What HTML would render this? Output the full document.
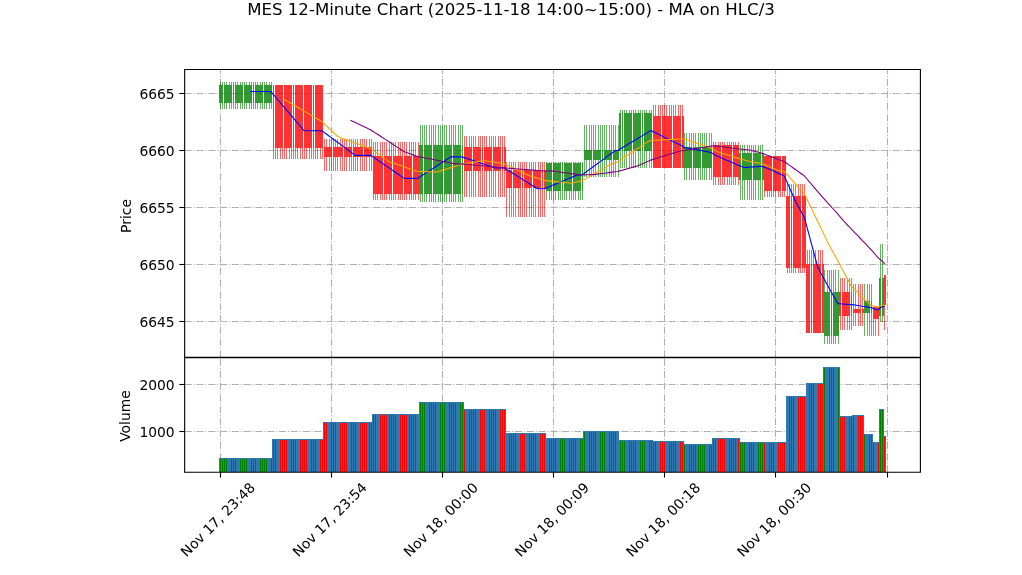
<!DOCTYPE html>
<html lang="en"><head><meta charset="utf-8"><title>MES 12-Minute Chart</title>
<style>html,body{margin:0;padding:0;background:#fff}body{width:1022px;height:575px;overflow:hidden}</style></head>
<body>
<svg width="1022" height="575" viewBox="0 0 1022 575" style="display:block">
<rect width="1022" height="575" fill="#fff"/>
<g stroke="#b0b0b0" stroke-width="1.1" stroke-dasharray="7.1,1.8,1.1,1.8" fill="none">
<path d="M220.5 357.5V69.45M220.5 472.3V357.5"/>
<path d="M331.5 357.5V69.45M331.5 472.3V357.5"/>
<path d="M442.5 357.5V69.45M442.5 472.3V357.5"/>
<path d="M553.5 357.5V69.45M553.5 472.3V357.5"/>
<path d="M664.5 357.5V69.45M664.5 472.3V357.5"/>
<path d="M775.5 357.5V69.45M775.5 472.3V357.5"/>
<path d="M887.5 357.5V69.45M887.5 472.3V357.5"/>
<path d="M184.65 93.5H920.4"/>
<path d="M184.65 150.5H920.4"/>
<path d="M184.65 207.5H920.4"/>
<path d="M184.65 264.5H920.4"/>
<path d="M184.65 321.5H920.4"/>
<path d="M184.65 431.5H920.4"/>
<path d="M184.65 384.5H920.4"/>
</g>
<g shape-rendering="crispEdges">
<g fill="#008000" fill-opacity="0.8">
<rect x="219" y="85" width="2" height="18"/>
<rect x="221" y="85" width="2" height="18"/>
<rect x="224" y="85" width="2" height="18"/>
<rect x="226" y="85" width="2" height="18"/>
<rect x="228" y="85" width="2" height="18"/>
<rect x="230" y="85" width="2" height="18"/>
<rect x="233" y="85" width="1" height="18"/>
<rect x="235" y="85" width="2" height="18"/>
<rect x="237" y="85" width="2" height="18"/>
<rect x="239" y="85" width="2" height="18"/>
<rect x="241" y="85" width="2" height="18"/>
<rect x="244" y="85" width="2" height="18"/>
<rect x="246" y="85" width="2" height="18"/>
<rect x="248" y="85" width="2" height="18"/>
<rect x="250" y="85" width="2" height="18"/>
<rect x="253" y="85" width="1" height="18"/>
<rect x="255" y="85" width="2" height="18"/>
<rect x="257" y="85" width="2" height="18"/>
<rect x="259" y="85" width="2" height="18"/>
<rect x="261" y="85" width="2" height="18"/>
<rect x="264" y="85" width="2" height="18"/>
<rect x="266" y="85" width="2" height="18"/>
<rect x="268" y="85" width="2" height="18"/>
<rect x="270" y="85" width="2" height="18"/>
<rect x="419" y="145" width="2" height="49"/>
<rect x="421" y="145" width="2" height="49"/>
<rect x="424" y="145" width="2" height="49"/>
<rect x="426" y="145" width="2" height="49"/>
<rect x="428" y="145" width="2" height="49"/>
<rect x="430" y="145" width="2" height="49"/>
<rect x="433" y="145" width="2" height="49"/>
<rect x="435" y="145" width="2" height="49"/>
<rect x="437" y="145" width="2" height="49"/>
<rect x="439" y="145" width="2" height="49"/>
<rect x="441" y="145" width="2" height="49"/>
<rect x="444" y="145" width="2" height="49"/>
<rect x="446" y="145" width="2" height="49"/>
<rect x="448" y="145" width="2" height="49"/>
<rect x="450" y="145" width="2" height="49"/>
<rect x="453" y="145" width="2" height="49"/>
<rect x="455" y="145" width="2" height="49"/>
<rect x="457" y="145" width="2" height="49"/>
<rect x="459" y="145" width="2" height="49"/>
<rect x="462" y="145" width="1" height="49"/>
<rect x="546" y="163" width="2" height="28"/>
<rect x="548" y="163" width="2" height="28"/>
<rect x="550" y="163" width="2" height="28"/>
<rect x="553" y="163" width="2" height="28"/>
<rect x="555" y="163" width="2" height="28"/>
<rect x="557" y="163" width="2" height="28"/>
<rect x="559" y="163" width="2" height="28"/>
<rect x="562" y="163" width="1" height="28"/>
<rect x="564" y="163" width="2" height="28"/>
<rect x="566" y="163" width="2" height="28"/>
<rect x="568" y="163" width="2" height="28"/>
<rect x="570" y="163" width="2" height="28"/>
<rect x="573" y="163" width="2" height="28"/>
<rect x="575" y="163" width="2" height="28"/>
<rect x="577" y="163" width="2" height="28"/>
<rect x="579" y="163" width="2" height="28"/>
<rect x="582" y="163" width="1" height="28"/>
<rect x="584" y="150" width="2" height="10"/>
<rect x="586" y="150" width="2" height="10"/>
<rect x="588" y="150" width="2" height="10"/>
<rect x="590" y="150" width="2" height="10"/>
<rect x="593" y="150" width="2" height="10"/>
<rect x="595" y="150" width="2" height="10"/>
<rect x="597" y="150" width="2" height="10"/>
<rect x="599" y="150" width="2" height="10"/>
<rect x="602" y="150" width="1" height="10"/>
<rect x="604" y="150" width="2" height="10"/>
<rect x="606" y="150" width="2" height="10"/>
<rect x="608" y="150" width="2" height="10"/>
<rect x="610" y="150" width="2" height="10"/>
<rect x="613" y="150" width="2" height="10"/>
<rect x="615" y="150" width="2" height="10"/>
<rect x="617" y="150" width="2" height="10"/>
<rect x="619" y="113" width="2" height="38"/>
<rect x="622" y="113" width="1" height="38"/>
<rect x="624" y="113" width="2" height="38"/>
<rect x="626" y="113" width="2" height="38"/>
<rect x="628" y="113" width="2" height="38"/>
<rect x="630" y="113" width="2" height="38"/>
<rect x="633" y="113" width="2" height="38"/>
<rect x="635" y="113" width="2" height="38"/>
<rect x="637" y="113" width="2" height="38"/>
<rect x="639" y="113" width="2" height="38"/>
<rect x="642" y="113" width="1" height="38"/>
<rect x="644" y="113" width="2" height="38"/>
<rect x="646" y="113" width="2" height="38"/>
<rect x="648" y="113" width="2" height="38"/>
<rect x="650" y="113" width="2" height="38"/>
<rect x="684" y="147" width="2" height="21"/>
<rect x="686" y="147" width="2" height="21"/>
<rect x="688" y="147" width="2" height="21"/>
<rect x="690" y="147" width="2" height="21"/>
<rect x="693" y="147" width="2" height="21"/>
<rect x="695" y="147" width="2" height="21"/>
<rect x="697" y="147" width="2" height="21"/>
<rect x="699" y="147" width="2" height="21"/>
<rect x="702" y="147" width="2" height="21"/>
<rect x="704" y="147" width="2" height="21"/>
<rect x="706" y="147" width="2" height="21"/>
<rect x="708" y="147" width="2" height="21"/>
<rect x="710" y="147" width="2" height="21"/>
<rect x="739" y="153" width="2" height="27"/>
<rect x="742" y="153" width="2" height="27"/>
<rect x="744" y="153" width="2" height="27"/>
<rect x="746" y="153" width="2" height="27"/>
<rect x="748" y="153" width="2" height="27"/>
<rect x="750" y="153" width="2" height="27"/>
<rect x="753" y="153" width="2" height="27"/>
<rect x="755" y="153" width="2" height="27"/>
<rect x="757" y="153" width="2" height="27"/>
<rect x="759" y="153" width="2" height="27"/>
<rect x="762" y="153" width="2" height="27"/>
<rect x="824" y="292" width="2" height="44"/>
<rect x="826" y="292" width="2" height="44"/>
<rect x="828" y="292" width="2" height="44"/>
<rect x="831" y="292" width="1" height="44"/>
<rect x="833" y="292" width="2" height="44"/>
<rect x="835" y="292" width="2" height="44"/>
<rect x="837" y="292" width="2" height="44"/>
<rect x="864" y="301" width="2" height="12"/>
<rect x="866" y="301" width="2" height="12"/>
<rect x="868" y="301" width="2" height="12"/>
<rect x="871" y="301" width="1" height="12"/>
<rect x="879" y="278" width="2" height="38"/>
<rect x="882" y="278" width="2" height="38"/>
</g>
<g fill="#ff0000" fill-opacity="0.8">
<rect x="273" y="85" width="1" height="63"/>
<rect x="275" y="85" width="2" height="63"/>
<rect x="277" y="85" width="2" height="63"/>
<rect x="279" y="85" width="2" height="63"/>
<rect x="281" y="85" width="2" height="63"/>
<rect x="284" y="85" width="2" height="63"/>
<rect x="286" y="85" width="2" height="63"/>
<rect x="288" y="85" width="2" height="63"/>
<rect x="290" y="85" width="2" height="63"/>
<rect x="293" y="85" width="1" height="63"/>
<rect x="295" y="85" width="2" height="63"/>
<rect x="297" y="85" width="2" height="63"/>
<rect x="299" y="85" width="2" height="63"/>
<rect x="301" y="85" width="2" height="63"/>
<rect x="304" y="85" width="2" height="63"/>
<rect x="306" y="85" width="2" height="63"/>
<rect x="308" y="85" width="2" height="63"/>
<rect x="310" y="85" width="2" height="63"/>
<rect x="313" y="85" width="1" height="63"/>
<rect x="315" y="85" width="2" height="63"/>
<rect x="317" y="85" width="2" height="63"/>
<rect x="319" y="85" width="2" height="63"/>
<rect x="321" y="85" width="2" height="63"/>
<rect x="324" y="147" width="2" height="10"/>
<rect x="326" y="147" width="2" height="10"/>
<rect x="328" y="147" width="2" height="10"/>
<rect x="330" y="147" width="2" height="10"/>
<rect x="333" y="147" width="2" height="10"/>
<rect x="335" y="147" width="2" height="10"/>
<rect x="337" y="147" width="2" height="10"/>
<rect x="339" y="147" width="2" height="10"/>
<rect x="341" y="147" width="2" height="10"/>
<rect x="344" y="147" width="2" height="10"/>
<rect x="346" y="147" width="2" height="10"/>
<rect x="348" y="147" width="2" height="10"/>
<rect x="350" y="147" width="2" height="10"/>
<rect x="353" y="147" width="2" height="10"/>
<rect x="355" y="147" width="2" height="10"/>
<rect x="357" y="147" width="2" height="10"/>
<rect x="359" y="147" width="2" height="10"/>
<rect x="361" y="147" width="2" height="10"/>
<rect x="364" y="147" width="2" height="10"/>
<rect x="366" y="147" width="2" height="10"/>
<rect x="368" y="147" width="2" height="10"/>
<rect x="370" y="147" width="2" height="10"/>
<rect x="373" y="156" width="2" height="38"/>
<rect x="375" y="156" width="2" height="38"/>
<rect x="377" y="156" width="2" height="38"/>
<rect x="379" y="156" width="2" height="38"/>
<rect x="381" y="156" width="2" height="38"/>
<rect x="384" y="156" width="2" height="38"/>
<rect x="386" y="156" width="2" height="38"/>
<rect x="388" y="156" width="2" height="38"/>
<rect x="390" y="156" width="2" height="38"/>
<rect x="393" y="156" width="2" height="38"/>
<rect x="395" y="156" width="2" height="38"/>
<rect x="397" y="156" width="2" height="38"/>
<rect x="399" y="156" width="2" height="38"/>
<rect x="401" y="156" width="2" height="38"/>
<rect x="404" y="156" width="2" height="38"/>
<rect x="406" y="156" width="2" height="38"/>
<rect x="408" y="156" width="2" height="38"/>
<rect x="410" y="156" width="2" height="38"/>
<rect x="413" y="156" width="2" height="38"/>
<rect x="415" y="156" width="2" height="38"/>
<rect x="417" y="156" width="2" height="38"/>
<rect x="464" y="147" width="2" height="24"/>
<rect x="466" y="147" width="2" height="24"/>
<rect x="468" y="147" width="2" height="24"/>
<rect x="470" y="147" width="2" height="24"/>
<rect x="473" y="147" width="2" height="24"/>
<rect x="475" y="147" width="2" height="24"/>
<rect x="477" y="147" width="2" height="24"/>
<rect x="479" y="147" width="2" height="24"/>
<rect x="482" y="147" width="1" height="24"/>
<rect x="484" y="147" width="2" height="24"/>
<rect x="486" y="147" width="2" height="24"/>
<rect x="488" y="147" width="2" height="24"/>
<rect x="490" y="147" width="2" height="24"/>
<rect x="493" y="147" width="2" height="24"/>
<rect x="495" y="147" width="2" height="24"/>
<rect x="497" y="147" width="2" height="24"/>
<rect x="499" y="147" width="2" height="24"/>
<rect x="502" y="147" width="1" height="24"/>
<rect x="504" y="147" width="2" height="24"/>
<rect x="506" y="170" width="2" height="18"/>
<rect x="508" y="170" width="2" height="18"/>
<rect x="510" y="170" width="2" height="18"/>
<rect x="513" y="170" width="2" height="18"/>
<rect x="515" y="170" width="2" height="18"/>
<rect x="517" y="170" width="2" height="18"/>
<rect x="519" y="170" width="2" height="18"/>
<rect x="522" y="170" width="1" height="18"/>
<rect x="524" y="170" width="2" height="18"/>
<rect x="526" y="170" width="2" height="18"/>
<rect x="528" y="170" width="2" height="18"/>
<rect x="530" y="170" width="2" height="18"/>
<rect x="533" y="170" width="2" height="18"/>
<rect x="535" y="170" width="2" height="18"/>
<rect x="537" y="170" width="2" height="18"/>
<rect x="539" y="170" width="2" height="18"/>
<rect x="542" y="170" width="1" height="18"/>
<rect x="544" y="170" width="2" height="18"/>
<rect x="653" y="116" width="2" height="52"/>
<rect x="655" y="116" width="2" height="52"/>
<rect x="657" y="116" width="2" height="52"/>
<rect x="659" y="116" width="2" height="52"/>
<rect x="662" y="116" width="2" height="52"/>
<rect x="664" y="116" width="2" height="52"/>
<rect x="666" y="116" width="2" height="52"/>
<rect x="668" y="116" width="2" height="52"/>
<rect x="670" y="116" width="2" height="52"/>
<rect x="673" y="116" width="2" height="52"/>
<rect x="675" y="116" width="2" height="52"/>
<rect x="677" y="116" width="2" height="52"/>
<rect x="679" y="116" width="2" height="52"/>
<rect x="682" y="116" width="2" height="52"/>
<rect x="713" y="145" width="2" height="32"/>
<rect x="715" y="145" width="2" height="32"/>
<rect x="717" y="145" width="2" height="32"/>
<rect x="719" y="145" width="2" height="32"/>
<rect x="722" y="145" width="2" height="32"/>
<rect x="724" y="145" width="2" height="32"/>
<rect x="726" y="145" width="2" height="32"/>
<rect x="728" y="145" width="2" height="32"/>
<rect x="730" y="145" width="2" height="32"/>
<rect x="733" y="145" width="2" height="32"/>
<rect x="735" y="145" width="2" height="32"/>
<rect x="737" y="145" width="2" height="32"/>
<rect x="764" y="156" width="2" height="35"/>
<rect x="766" y="156" width="2" height="35"/>
<rect x="768" y="156" width="2" height="35"/>
<rect x="770" y="156" width="2" height="35"/>
<rect x="773" y="156" width="2" height="35"/>
<rect x="775" y="156" width="2" height="35"/>
<rect x="777" y="156" width="2" height="35"/>
<rect x="779" y="156" width="2" height="35"/>
<rect x="782" y="156" width="2" height="35"/>
<rect x="784" y="156" width="2" height="35"/>
<rect x="786" y="196" width="2" height="72"/>
<rect x="788" y="196" width="2" height="72"/>
<rect x="791" y="196" width="1" height="72"/>
<rect x="793" y="196" width="2" height="72"/>
<rect x="795" y="196" width="2" height="72"/>
<rect x="797" y="196" width="2" height="72"/>
<rect x="799" y="196" width="2" height="72"/>
<rect x="802" y="196" width="2" height="72"/>
<rect x="804" y="196" width="2" height="72"/>
<rect x="806" y="264" width="2" height="69"/>
<rect x="808" y="264" width="2" height="69"/>
<rect x="811" y="264" width="1" height="69"/>
<rect x="813" y="264" width="2" height="69"/>
<rect x="815" y="264" width="2" height="69"/>
<rect x="817" y="264" width="2" height="69"/>
<rect x="819" y="264" width="2" height="69"/>
<rect x="822" y="264" width="2" height="69"/>
<rect x="839" y="292" width="2" height="24"/>
<rect x="842" y="292" width="2" height="24"/>
<rect x="844" y="292" width="2" height="24"/>
<rect x="846" y="292" width="2" height="24"/>
<rect x="848" y="292" width="2" height="24"/>
<rect x="851" y="292" width="1" height="24"/>
<rect x="853" y="309" width="2" height="4"/>
<rect x="855" y="309" width="2" height="4"/>
<rect x="857" y="309" width="2" height="4"/>
<rect x="859" y="309" width="2" height="4"/>
<rect x="862" y="309" width="2" height="4"/>
<rect x="873" y="307" width="2" height="12"/>
<rect x="875" y="307" width="2" height="12"/>
<rect x="877" y="307" width="2" height="12"/>
<rect x="884" y="275" width="2" height="30"/>
</g>
</g>
<g shape-rendering="crispEdges">
<g fill="#008000" fill-opacity="0.6">
<rect x="220" y="82" width="1" height="3"/>
<rect x="220" y="103" width="1" height="6"/>
<rect x="222" y="82" width="1" height="3"/>
<rect x="222" y="103" width="1" height="6"/>
<rect x="224" y="82" width="1" height="3"/>
<rect x="224" y="103" width="1" height="6"/>
<rect x="226" y="82" width="1" height="3"/>
<rect x="226" y="103" width="1" height="6"/>
<rect x="229" y="82" width="1" height="3"/>
<rect x="229" y="103" width="1" height="6"/>
<rect x="231" y="82" width="1" height="3"/>
<rect x="231" y="103" width="1" height="6"/>
<rect x="233" y="82" width="1" height="3"/>
<rect x="233" y="103" width="1" height="6"/>
<rect x="235" y="82" width="1" height="3"/>
<rect x="235" y="103" width="1" height="6"/>
<rect x="237" y="82" width="1" height="3"/>
<rect x="237" y="103" width="1" height="6"/>
<rect x="240" y="82" width="1" height="3"/>
<rect x="240" y="103" width="1" height="6"/>
<rect x="242" y="82" width="1" height="3"/>
<rect x="242" y="103" width="1" height="6"/>
<rect x="244" y="82" width="1" height="3"/>
<rect x="244" y="103" width="1" height="6"/>
<rect x="246" y="82" width="1" height="3"/>
<rect x="246" y="103" width="1" height="6"/>
<rect x="249" y="82" width="1" height="3"/>
<rect x="249" y="103" width="1" height="6"/>
<rect x="251" y="82" width="1" height="3"/>
<rect x="251" y="103" width="1" height="6"/>
<rect x="253" y="82" width="1" height="3"/>
<rect x="253" y="103" width="1" height="6"/>
<rect x="255" y="82" width="1" height="3"/>
<rect x="255" y="103" width="1" height="6"/>
<rect x="257" y="82" width="1" height="3"/>
<rect x="257" y="103" width="1" height="6"/>
<rect x="260" y="82" width="1" height="3"/>
<rect x="260" y="103" width="1" height="6"/>
<rect x="262" y="82" width="1" height="3"/>
<rect x="262" y="103" width="1" height="6"/>
<rect x="264" y="82" width="1" height="3"/>
<rect x="264" y="103" width="1" height="6"/>
<rect x="266" y="82" width="1" height="3"/>
<rect x="266" y="103" width="1" height="6"/>
<rect x="269" y="82" width="1" height="3"/>
<rect x="269" y="103" width="1" height="6"/>
<rect x="271" y="82" width="1" height="3"/>
<rect x="271" y="103" width="1" height="6"/>
<rect x="420" y="125" width="1" height="20"/>
<rect x="420" y="194" width="1" height="8"/>
<rect x="422" y="125" width="1" height="20"/>
<rect x="422" y="194" width="1" height="8"/>
<rect x="424" y="125" width="1" height="20"/>
<rect x="424" y="194" width="1" height="8"/>
<rect x="426" y="125" width="1" height="20"/>
<rect x="426" y="194" width="1" height="8"/>
<rect x="429" y="125" width="1" height="20"/>
<rect x="429" y="194" width="1" height="8"/>
<rect x="431" y="125" width="1" height="20"/>
<rect x="431" y="194" width="1" height="8"/>
<rect x="433" y="125" width="1" height="20"/>
<rect x="433" y="194" width="1" height="8"/>
<rect x="435" y="125" width="1" height="20"/>
<rect x="435" y="194" width="1" height="8"/>
<rect x="438" y="125" width="1" height="20"/>
<rect x="438" y="194" width="1" height="8"/>
<rect x="440" y="125" width="1" height="20"/>
<rect x="440" y="194" width="1" height="8"/>
<rect x="442" y="125" width="1" height="20"/>
<rect x="442" y="194" width="1" height="8"/>
<rect x="444" y="125" width="1" height="20"/>
<rect x="444" y="194" width="1" height="8"/>
<rect x="446" y="125" width="1" height="20"/>
<rect x="446" y="194" width="1" height="8"/>
<rect x="449" y="125" width="1" height="20"/>
<rect x="449" y="194" width="1" height="8"/>
<rect x="451" y="125" width="1" height="20"/>
<rect x="451" y="194" width="1" height="8"/>
<rect x="453" y="125" width="1" height="20"/>
<rect x="453" y="194" width="1" height="8"/>
<rect x="455" y="125" width="1" height="20"/>
<rect x="455" y="194" width="1" height="8"/>
<rect x="458" y="125" width="1" height="20"/>
<rect x="458" y="194" width="1" height="8"/>
<rect x="460" y="125" width="1" height="20"/>
<rect x="460" y="194" width="1" height="8"/>
<rect x="462" y="125" width="1" height="20"/>
<rect x="462" y="194" width="1" height="8"/>
<rect x="546" y="162" width="1" height="1"/>
<rect x="546" y="191" width="1" height="9"/>
<rect x="549" y="162" width="1" height="1"/>
<rect x="549" y="191" width="1" height="9"/>
<rect x="551" y="162" width="1" height="1"/>
<rect x="551" y="191" width="1" height="9"/>
<rect x="553" y="162" width="1" height="1"/>
<rect x="553" y="191" width="1" height="9"/>
<rect x="555" y="162" width="1" height="1"/>
<rect x="555" y="191" width="1" height="9"/>
<rect x="558" y="162" width="1" height="1"/>
<rect x="558" y="191" width="1" height="9"/>
<rect x="560" y="162" width="1" height="1"/>
<rect x="560" y="191" width="1" height="9"/>
<rect x="562" y="162" width="1" height="1"/>
<rect x="562" y="191" width="1" height="9"/>
<rect x="564" y="162" width="1" height="1"/>
<rect x="564" y="191" width="1" height="9"/>
<rect x="566" y="162" width="1" height="1"/>
<rect x="566" y="191" width="1" height="9"/>
<rect x="569" y="162" width="1" height="1"/>
<rect x="569" y="191" width="1" height="9"/>
<rect x="571" y="162" width="1" height="1"/>
<rect x="571" y="191" width="1" height="9"/>
<rect x="573" y="162" width="1" height="1"/>
<rect x="573" y="191" width="1" height="9"/>
<rect x="575" y="162" width="1" height="1"/>
<rect x="575" y="191" width="1" height="9"/>
<rect x="578" y="162" width="1" height="1"/>
<rect x="578" y="191" width="1" height="9"/>
<rect x="580" y="162" width="1" height="1"/>
<rect x="580" y="191" width="1" height="9"/>
<rect x="582" y="162" width="1" height="1"/>
<rect x="582" y="191" width="1" height="9"/>
<rect x="584" y="125" width="1" height="25"/>
<rect x="584" y="160" width="1" height="17"/>
<rect x="586" y="125" width="1" height="25"/>
<rect x="586" y="160" width="1" height="17"/>
<rect x="589" y="125" width="1" height="25"/>
<rect x="589" y="160" width="1" height="17"/>
<rect x="591" y="125" width="1" height="25"/>
<rect x="591" y="160" width="1" height="17"/>
<rect x="593" y="125" width="1" height="25"/>
<rect x="593" y="160" width="1" height="17"/>
<rect x="595" y="125" width="1" height="25"/>
<rect x="595" y="160" width="1" height="17"/>
<rect x="598" y="125" width="1" height="25"/>
<rect x="598" y="160" width="1" height="17"/>
<rect x="600" y="125" width="1" height="25"/>
<rect x="600" y="160" width="1" height="17"/>
<rect x="602" y="125" width="1" height="25"/>
<rect x="602" y="160" width="1" height="17"/>
<rect x="604" y="125" width="1" height="25"/>
<rect x="604" y="160" width="1" height="17"/>
<rect x="606" y="125" width="1" height="25"/>
<rect x="606" y="160" width="1" height="17"/>
<rect x="609" y="125" width="1" height="25"/>
<rect x="609" y="160" width="1" height="17"/>
<rect x="611" y="125" width="1" height="25"/>
<rect x="611" y="160" width="1" height="17"/>
<rect x="613" y="125" width="1" height="25"/>
<rect x="613" y="160" width="1" height="17"/>
<rect x="615" y="125" width="1" height="25"/>
<rect x="615" y="160" width="1" height="17"/>
<rect x="618" y="125" width="1" height="25"/>
<rect x="618" y="160" width="1" height="17"/>
<rect x="620" y="110" width="1" height="3"/>
<rect x="620" y="151" width="1" height="17"/>
<rect x="622" y="110" width="1" height="3"/>
<rect x="622" y="151" width="1" height="17"/>
<rect x="624" y="110" width="1" height="3"/>
<rect x="624" y="151" width="1" height="17"/>
<rect x="626" y="110" width="1" height="3"/>
<rect x="626" y="151" width="1" height="17"/>
<rect x="629" y="110" width="1" height="3"/>
<rect x="629" y="151" width="1" height="17"/>
<rect x="631" y="110" width="1" height="3"/>
<rect x="631" y="151" width="1" height="17"/>
<rect x="633" y="110" width="1" height="3"/>
<rect x="633" y="151" width="1" height="17"/>
<rect x="635" y="110" width="1" height="3"/>
<rect x="635" y="151" width="1" height="17"/>
<rect x="638" y="110" width="1" height="3"/>
<rect x="638" y="151" width="1" height="17"/>
<rect x="640" y="110" width="1" height="3"/>
<rect x="640" y="151" width="1" height="17"/>
<rect x="642" y="110" width="1" height="3"/>
<rect x="642" y="151" width="1" height="17"/>
<rect x="644" y="110" width="1" height="3"/>
<rect x="644" y="151" width="1" height="17"/>
<rect x="646" y="110" width="1" height="3"/>
<rect x="646" y="151" width="1" height="17"/>
<rect x="649" y="110" width="1" height="3"/>
<rect x="649" y="151" width="1" height="17"/>
<rect x="651" y="110" width="1" height="3"/>
<rect x="651" y="151" width="1" height="17"/>
<rect x="684" y="133" width="1" height="14"/>
<rect x="684" y="168" width="1" height="12"/>
<rect x="686" y="133" width="1" height="14"/>
<rect x="686" y="168" width="1" height="12"/>
<rect x="689" y="133" width="1" height="14"/>
<rect x="689" y="168" width="1" height="12"/>
<rect x="691" y="133" width="1" height="14"/>
<rect x="691" y="168" width="1" height="12"/>
<rect x="693" y="133" width="1" height="14"/>
<rect x="693" y="168" width="1" height="12"/>
<rect x="695" y="133" width="1" height="14"/>
<rect x="695" y="168" width="1" height="12"/>
<rect x="698" y="133" width="1" height="14"/>
<rect x="698" y="168" width="1" height="12"/>
<rect x="700" y="133" width="1" height="14"/>
<rect x="700" y="168" width="1" height="12"/>
<rect x="702" y="133" width="1" height="14"/>
<rect x="702" y="168" width="1" height="12"/>
<rect x="704" y="133" width="1" height="14"/>
<rect x="704" y="168" width="1" height="12"/>
<rect x="706" y="133" width="1" height="14"/>
<rect x="706" y="168" width="1" height="12"/>
<rect x="709" y="133" width="1" height="14"/>
<rect x="709" y="168" width="1" height="12"/>
<rect x="711" y="133" width="1" height="14"/>
<rect x="711" y="168" width="1" height="12"/>
<rect x="740" y="145" width="1" height="8"/>
<rect x="740" y="180" width="1" height="20"/>
<rect x="742" y="145" width="1" height="8"/>
<rect x="742" y="180" width="1" height="20"/>
<rect x="744" y="145" width="1" height="8"/>
<rect x="744" y="180" width="1" height="20"/>
<rect x="747" y="145" width="1" height="8"/>
<rect x="747" y="180" width="1" height="20"/>
<rect x="749" y="145" width="1" height="8"/>
<rect x="749" y="180" width="1" height="20"/>
<rect x="751" y="145" width="1" height="8"/>
<rect x="751" y="180" width="1" height="20"/>
<rect x="753" y="145" width="1" height="8"/>
<rect x="753" y="180" width="1" height="20"/>
<rect x="755" y="145" width="1" height="8"/>
<rect x="755" y="180" width="1" height="20"/>
<rect x="758" y="145" width="1" height="8"/>
<rect x="758" y="180" width="1" height="20"/>
<rect x="760" y="145" width="1" height="8"/>
<rect x="760" y="180" width="1" height="20"/>
<rect x="762" y="145" width="1" height="8"/>
<rect x="762" y="180" width="1" height="20"/>
<rect x="824" y="270" width="1" height="22"/>
<rect x="824" y="336" width="1" height="8"/>
<rect x="827" y="270" width="1" height="22"/>
<rect x="827" y="336" width="1" height="8"/>
<rect x="829" y="270" width="1" height="22"/>
<rect x="829" y="336" width="1" height="8"/>
<rect x="831" y="270" width="1" height="22"/>
<rect x="831" y="336" width="1" height="8"/>
<rect x="833" y="270" width="1" height="22"/>
<rect x="833" y="336" width="1" height="8"/>
<rect x="835" y="270" width="1" height="22"/>
<rect x="835" y="336" width="1" height="8"/>
<rect x="838" y="270" width="1" height="22"/>
<rect x="838" y="336" width="1" height="8"/>
<rect x="864" y="284" width="1" height="17"/>
<rect x="864" y="313" width="1" height="23"/>
<rect x="867" y="284" width="1" height="17"/>
<rect x="867" y="313" width="1" height="23"/>
<rect x="869" y="284" width="1" height="17"/>
<rect x="869" y="313" width="1" height="23"/>
<rect x="871" y="284" width="1" height="17"/>
<rect x="871" y="313" width="1" height="23"/>
<rect x="880" y="244" width="1" height="34"/>
<rect x="880" y="316" width="1" height="6"/>
<rect x="882" y="244" width="1" height="34"/>
<rect x="882" y="316" width="1" height="6"/>
</g>
<g fill="#ff0000" fill-opacity="0.6">
<rect x="273" y="148" width="1" height="11"/>
<rect x="275" y="148" width="1" height="11"/>
<rect x="277" y="148" width="1" height="11"/>
<rect x="280" y="148" width="1" height="11"/>
<rect x="282" y="148" width="1" height="11"/>
<rect x="284" y="148" width="1" height="11"/>
<rect x="286" y="148" width="1" height="11"/>
<rect x="289" y="148" width="1" height="11"/>
<rect x="291" y="148" width="1" height="11"/>
<rect x="293" y="148" width="1" height="11"/>
<rect x="295" y="148" width="1" height="11"/>
<rect x="297" y="148" width="1" height="11"/>
<rect x="300" y="148" width="1" height="11"/>
<rect x="302" y="148" width="1" height="11"/>
<rect x="304" y="148" width="1" height="11"/>
<rect x="306" y="148" width="1" height="11"/>
<rect x="309" y="148" width="1" height="11"/>
<rect x="311" y="148" width="1" height="11"/>
<rect x="313" y="148" width="1" height="11"/>
<rect x="315" y="148" width="1" height="11"/>
<rect x="317" y="148" width="1" height="11"/>
<rect x="320" y="148" width="1" height="11"/>
<rect x="322" y="148" width="1" height="11"/>
<rect x="324" y="139" width="1" height="8"/>
<rect x="324" y="157" width="1" height="14"/>
<rect x="326" y="139" width="1" height="8"/>
<rect x="326" y="157" width="1" height="14"/>
<rect x="329" y="139" width="1" height="8"/>
<rect x="329" y="157" width="1" height="14"/>
<rect x="331" y="139" width="1" height="8"/>
<rect x="331" y="157" width="1" height="14"/>
<rect x="333" y="139" width="1" height="8"/>
<rect x="333" y="157" width="1" height="14"/>
<rect x="335" y="139" width="1" height="8"/>
<rect x="335" y="157" width="1" height="14"/>
<rect x="337" y="139" width="1" height="8"/>
<rect x="337" y="157" width="1" height="14"/>
<rect x="340" y="139" width="1" height="8"/>
<rect x="340" y="157" width="1" height="14"/>
<rect x="342" y="139" width="1" height="8"/>
<rect x="342" y="157" width="1" height="14"/>
<rect x="344" y="139" width="1" height="8"/>
<rect x="344" y="157" width="1" height="14"/>
<rect x="346" y="139" width="1" height="8"/>
<rect x="346" y="157" width="1" height="14"/>
<rect x="349" y="139" width="1" height="8"/>
<rect x="349" y="157" width="1" height="14"/>
<rect x="351" y="139" width="1" height="8"/>
<rect x="351" y="157" width="1" height="14"/>
<rect x="353" y="139" width="1" height="8"/>
<rect x="353" y="157" width="1" height="14"/>
<rect x="355" y="139" width="1" height="8"/>
<rect x="355" y="157" width="1" height="14"/>
<rect x="357" y="139" width="1" height="8"/>
<rect x="357" y="157" width="1" height="14"/>
<rect x="360" y="139" width="1" height="8"/>
<rect x="360" y="157" width="1" height="14"/>
<rect x="362" y="139" width="1" height="8"/>
<rect x="362" y="157" width="1" height="14"/>
<rect x="364" y="139" width="1" height="8"/>
<rect x="364" y="157" width="1" height="14"/>
<rect x="366" y="139" width="1" height="8"/>
<rect x="366" y="157" width="1" height="14"/>
<rect x="369" y="139" width="1" height="8"/>
<rect x="369" y="157" width="1" height="14"/>
<rect x="371" y="139" width="1" height="8"/>
<rect x="371" y="157" width="1" height="14"/>
<rect x="373" y="142" width="1" height="14"/>
<rect x="373" y="194" width="1" height="6"/>
<rect x="375" y="142" width="1" height="14"/>
<rect x="375" y="194" width="1" height="6"/>
<rect x="377" y="142" width="1" height="14"/>
<rect x="377" y="194" width="1" height="6"/>
<rect x="380" y="142" width="1" height="14"/>
<rect x="380" y="194" width="1" height="6"/>
<rect x="382" y="142" width="1" height="14"/>
<rect x="382" y="194" width="1" height="6"/>
<rect x="384" y="142" width="1" height="14"/>
<rect x="384" y="194" width="1" height="6"/>
<rect x="386" y="142" width="1" height="14"/>
<rect x="386" y="194" width="1" height="6"/>
<rect x="389" y="142" width="1" height="14"/>
<rect x="389" y="194" width="1" height="6"/>
<rect x="391" y="142" width="1" height="14"/>
<rect x="391" y="194" width="1" height="6"/>
<rect x="393" y="142" width="1" height="14"/>
<rect x="393" y="194" width="1" height="6"/>
<rect x="395" y="142" width="1" height="14"/>
<rect x="395" y="194" width="1" height="6"/>
<rect x="398" y="142" width="1" height="14"/>
<rect x="398" y="194" width="1" height="6"/>
<rect x="400" y="142" width="1" height="14"/>
<rect x="400" y="194" width="1" height="6"/>
<rect x="402" y="142" width="1" height="14"/>
<rect x="402" y="194" width="1" height="6"/>
<rect x="404" y="142" width="1" height="14"/>
<rect x="404" y="194" width="1" height="6"/>
<rect x="406" y="142" width="1" height="14"/>
<rect x="406" y="194" width="1" height="6"/>
<rect x="409" y="142" width="1" height="14"/>
<rect x="409" y="194" width="1" height="6"/>
<rect x="411" y="142" width="1" height="14"/>
<rect x="411" y="194" width="1" height="6"/>
<rect x="413" y="142" width="1" height="14"/>
<rect x="413" y="194" width="1" height="6"/>
<rect x="415" y="142" width="1" height="14"/>
<rect x="415" y="194" width="1" height="6"/>
<rect x="418" y="142" width="1" height="14"/>
<rect x="418" y="194" width="1" height="6"/>
<rect x="464" y="136" width="1" height="11"/>
<rect x="464" y="171" width="1" height="26"/>
<rect x="466" y="136" width="1" height="11"/>
<rect x="466" y="171" width="1" height="26"/>
<rect x="469" y="136" width="1" height="11"/>
<rect x="469" y="171" width="1" height="26"/>
<rect x="471" y="136" width="1" height="11"/>
<rect x="471" y="171" width="1" height="26"/>
<rect x="473" y="136" width="1" height="11"/>
<rect x="473" y="171" width="1" height="26"/>
<rect x="475" y="136" width="1" height="11"/>
<rect x="475" y="171" width="1" height="26"/>
<rect x="478" y="136" width="1" height="11"/>
<rect x="478" y="171" width="1" height="26"/>
<rect x="480" y="136" width="1" height="11"/>
<rect x="480" y="171" width="1" height="26"/>
<rect x="482" y="136" width="1" height="11"/>
<rect x="482" y="171" width="1" height="26"/>
<rect x="484" y="136" width="1" height="11"/>
<rect x="484" y="171" width="1" height="26"/>
<rect x="486" y="136" width="1" height="11"/>
<rect x="486" y="171" width="1" height="26"/>
<rect x="489" y="136" width="1" height="11"/>
<rect x="489" y="171" width="1" height="26"/>
<rect x="491" y="136" width="1" height="11"/>
<rect x="491" y="171" width="1" height="26"/>
<rect x="493" y="136" width="1" height="11"/>
<rect x="493" y="171" width="1" height="26"/>
<rect x="495" y="136" width="1" height="11"/>
<rect x="495" y="171" width="1" height="26"/>
<rect x="498" y="136" width="1" height="11"/>
<rect x="498" y="171" width="1" height="26"/>
<rect x="500" y="136" width="1" height="11"/>
<rect x="500" y="171" width="1" height="26"/>
<rect x="502" y="136" width="1" height="11"/>
<rect x="502" y="171" width="1" height="26"/>
<rect x="504" y="136" width="1" height="11"/>
<rect x="504" y="171" width="1" height="26"/>
<rect x="506" y="162" width="1" height="8"/>
<rect x="506" y="188" width="1" height="29"/>
<rect x="509" y="162" width="1" height="8"/>
<rect x="509" y="188" width="1" height="29"/>
<rect x="511" y="162" width="1" height="8"/>
<rect x="511" y="188" width="1" height="29"/>
<rect x="513" y="162" width="1" height="8"/>
<rect x="513" y="188" width="1" height="29"/>
<rect x="515" y="162" width="1" height="8"/>
<rect x="515" y="188" width="1" height="29"/>
<rect x="518" y="162" width="1" height="8"/>
<rect x="518" y="188" width="1" height="29"/>
<rect x="520" y="162" width="1" height="8"/>
<rect x="520" y="188" width="1" height="29"/>
<rect x="522" y="162" width="1" height="8"/>
<rect x="522" y="188" width="1" height="29"/>
<rect x="524" y="162" width="1" height="8"/>
<rect x="524" y="188" width="1" height="29"/>
<rect x="526" y="162" width="1" height="8"/>
<rect x="526" y="188" width="1" height="29"/>
<rect x="529" y="162" width="1" height="8"/>
<rect x="529" y="188" width="1" height="29"/>
<rect x="531" y="162" width="1" height="8"/>
<rect x="531" y="188" width="1" height="29"/>
<rect x="533" y="162" width="1" height="8"/>
<rect x="533" y="188" width="1" height="29"/>
<rect x="535" y="162" width="1" height="8"/>
<rect x="535" y="188" width="1" height="29"/>
<rect x="538" y="162" width="1" height="8"/>
<rect x="538" y="188" width="1" height="29"/>
<rect x="540" y="162" width="1" height="8"/>
<rect x="540" y="188" width="1" height="29"/>
<rect x="542" y="162" width="1" height="8"/>
<rect x="542" y="188" width="1" height="29"/>
<rect x="544" y="162" width="1" height="8"/>
<rect x="544" y="188" width="1" height="29"/>
<rect x="653" y="105" width="1" height="11"/>
<rect x="655" y="105" width="1" height="11"/>
<rect x="658" y="105" width="1" height="11"/>
<rect x="660" y="105" width="1" height="11"/>
<rect x="662" y="105" width="1" height="11"/>
<rect x="664" y="105" width="1" height="11"/>
<rect x="666" y="105" width="1" height="11"/>
<rect x="669" y="105" width="1" height="11"/>
<rect x="671" y="105" width="1" height="11"/>
<rect x="673" y="105" width="1" height="11"/>
<rect x="675" y="105" width="1" height="11"/>
<rect x="678" y="105" width="1" height="11"/>
<rect x="680" y="105" width="1" height="11"/>
<rect x="682" y="105" width="1" height="11"/>
<rect x="713" y="142" width="1" height="3"/>
<rect x="713" y="177" width="1" height="8"/>
<rect x="715" y="142" width="1" height="3"/>
<rect x="715" y="177" width="1" height="8"/>
<rect x="718" y="142" width="1" height="3"/>
<rect x="718" y="177" width="1" height="8"/>
<rect x="720" y="142" width="1" height="3"/>
<rect x="720" y="177" width="1" height="8"/>
<rect x="722" y="142" width="1" height="3"/>
<rect x="722" y="177" width="1" height="8"/>
<rect x="724" y="142" width="1" height="3"/>
<rect x="724" y="177" width="1" height="8"/>
<rect x="727" y="142" width="1" height="3"/>
<rect x="727" y="177" width="1" height="8"/>
<rect x="729" y="142" width="1" height="3"/>
<rect x="729" y="177" width="1" height="8"/>
<rect x="731" y="142" width="1" height="3"/>
<rect x="731" y="177" width="1" height="8"/>
<rect x="733" y="142" width="1" height="3"/>
<rect x="733" y="177" width="1" height="8"/>
<rect x="735" y="142" width="1" height="3"/>
<rect x="735" y="177" width="1" height="8"/>
<rect x="738" y="142" width="1" height="3"/>
<rect x="738" y="177" width="1" height="8"/>
<rect x="764" y="191" width="1" height="6"/>
<rect x="767" y="191" width="1" height="6"/>
<rect x="769" y="191" width="1" height="6"/>
<rect x="771" y="191" width="1" height="6"/>
<rect x="773" y="191" width="1" height="6"/>
<rect x="775" y="191" width="1" height="6"/>
<rect x="778" y="191" width="1" height="6"/>
<rect x="780" y="191" width="1" height="6"/>
<rect x="782" y="191" width="1" height="6"/>
<rect x="784" y="191" width="1" height="6"/>
<rect x="787" y="184" width="1" height="12"/>
<rect x="787" y="268" width="1" height="5"/>
<rect x="789" y="184" width="1" height="12"/>
<rect x="789" y="268" width="1" height="5"/>
<rect x="791" y="184" width="1" height="12"/>
<rect x="791" y="268" width="1" height="5"/>
<rect x="793" y="184" width="1" height="12"/>
<rect x="793" y="268" width="1" height="5"/>
<rect x="795" y="184" width="1" height="12"/>
<rect x="795" y="268" width="1" height="5"/>
<rect x="798" y="184" width="1" height="12"/>
<rect x="798" y="268" width="1" height="5"/>
<rect x="800" y="184" width="1" height="12"/>
<rect x="800" y="268" width="1" height="5"/>
<rect x="802" y="184" width="1" height="12"/>
<rect x="802" y="268" width="1" height="5"/>
<rect x="804" y="184" width="1" height="12"/>
<rect x="804" y="268" width="1" height="5"/>
<rect x="807" y="250" width="1" height="14"/>
<rect x="809" y="250" width="1" height="14"/>
<rect x="811" y="250" width="1" height="14"/>
<rect x="813" y="250" width="1" height="14"/>
<rect x="815" y="250" width="1" height="14"/>
<rect x="818" y="250" width="1" height="14"/>
<rect x="820" y="250" width="1" height="14"/>
<rect x="822" y="250" width="1" height="14"/>
<rect x="840" y="278" width="1" height="14"/>
<rect x="840" y="316" width="1" height="14"/>
<rect x="842" y="278" width="1" height="14"/>
<rect x="842" y="316" width="1" height="14"/>
<rect x="844" y="278" width="1" height="14"/>
<rect x="844" y="316" width="1" height="14"/>
<rect x="847" y="278" width="1" height="14"/>
<rect x="847" y="316" width="1" height="14"/>
<rect x="849" y="278" width="1" height="14"/>
<rect x="849" y="316" width="1" height="14"/>
<rect x="851" y="278" width="1" height="14"/>
<rect x="851" y="316" width="1" height="14"/>
<rect x="853" y="284" width="1" height="25"/>
<rect x="853" y="313" width="1" height="13"/>
<rect x="855" y="284" width="1" height="25"/>
<rect x="855" y="313" width="1" height="13"/>
<rect x="858" y="284" width="1" height="25"/>
<rect x="858" y="313" width="1" height="13"/>
<rect x="860" y="284" width="1" height="25"/>
<rect x="860" y="313" width="1" height="13"/>
<rect x="862" y="284" width="1" height="25"/>
<rect x="862" y="313" width="1" height="13"/>
<rect x="873" y="319" width="1" height="17"/>
<rect x="875" y="319" width="1" height="17"/>
<rect x="878" y="319" width="1" height="17"/>
<rect x="884" y="305" width="1" height="25"/>
</g>
</g>
<polyline points="250.82,91.53 253.04,91.53 255.27,91.53 257.49,91.53 259.71,91.53 261.94,91.53 264.16,91.53 266.38,91.53 268.61,91.53 270.83,91.53 273.05,94.15 275.27,96.76 277.50,99.38 279.72,102.00 281.94,104.61 284.17,107.23 286.39,109.84 288.61,112.46 290.84,115.07 293.06,117.69 295.28,120.30 297.50,122.92 299.73,125.54 301.95,128.15 304.17,130.77 306.40,130.77 308.62,130.77 310.84,130.77 313.07,130.77 315.29,130.77 317.51,130.77 319.73,130.77 321.96,130.77 324.18,132.41 326.40,134.05 328.63,135.69 330.85,137.33 333.07,138.97 335.29,140.61 337.52,142.25 339.74,143.89 341.96,145.53 344.19,147.17 346.41,148.81 348.63,150.45 350.86,152.09 353.08,153.73 355.30,155.37 357.52,155.37 359.75,155.37 361.97,155.37 364.19,155.37 366.42,155.37 368.64,155.37 370.86,155.37 373.09,156.90 375.31,158.43 377.53,159.97 379.75,161.50 381.98,163.03 384.20,164.57 386.42,166.10 388.65,167.63 390.87,169.17 393.09,170.70 395.32,172.23 397.54,173.77 399.76,175.30 401.98,176.83 404.21,178.37 406.43,178.37 408.65,178.37 410.88,178.37 413.10,178.37 415.32,178.37 417.55,178.37 419.77,176.94 421.99,175.50 424.21,174.07 426.44,172.64 428.66,171.21 430.88,169.78 433.11,168.35 435.33,166.92 437.55,165.49 439.78,164.06 442.00,162.62 444.22,161.19 446.44,159.76 448.67,158.33 450.89,156.90 453.11,156.90 455.34,156.90 457.56,156.90 459.78,156.90 462.00,156.90 464.23,157.63 466.45,158.37 468.67,159.10 470.90,159.83 473.12,160.57 475.34,161.30 477.57,162.03 479.79,162.77 482.01,163.50 484.23,164.23 486.46,164.97 488.68,165.70 490.90,166.43 493.13,167.17 495.35,167.90 497.57,167.90 499.80,167.90 502.02,167.90 504.24,167.90 506.46,169.29 508.69,170.69 510.91,172.08 513.13,173.47 515.36,174.87 517.58,176.26 519.80,177.65 522.03,179.05 524.25,180.44 526.47,181.83 528.69,183.23 530.92,184.62 533.14,186.01 535.36,187.41 537.59,188.80 539.81,188.80 542.03,188.80 544.26,188.80 546.48,187.87 548.70,186.94 550.92,186.01 553.15,185.08 555.37,184.14 557.59,183.21 559.82,182.28 562.04,181.35 564.26,180.42 566.48,179.49 568.71,178.56 570.93,177.63 573.15,176.70 575.38,175.76 577.60,174.83 579.82,174.83 582.05,174.83 584.27,173.21 586.49,171.59 588.71,169.97 590.94,168.34 593.16,166.72 595.38,165.10 597.61,163.48 599.83,161.86 602.05,160.23 604.28,158.61 606.50,156.99 608.72,155.37 610.94,153.74 613.17,152.12 615.39,150.50 617.61,150.50 619.84,149.17 622.06,147.84 624.28,146.51 626.51,145.18 628.73,143.84 630.95,142.51 633.17,141.18 635.40,139.85 637.62,138.52 639.84,137.19 642.07,135.86 644.29,134.53 646.51,133.20 648.74,131.86 650.96,130.53 653.18,131.64 655.40,132.74 657.63,133.84 659.85,134.94 662.07,136.04 664.30,137.15 666.52,138.25 668.74,139.35 670.96,140.45 673.19,141.56 675.41,142.66 677.63,143.76 679.86,144.86 682.08,145.96 684.30,147.48 686.53,147.90 688.75,148.31 690.97,148.73 693.19,149.14 695.42,149.56 697.64,149.98 699.86,150.39 702.09,150.81 704.31,151.22 706.53,151.64 708.76,152.05 710.98,152.47 713.20,153.86 715.42,155.25 717.65,156.23 719.87,157.20 722.09,158.18 724.32,159.15 726.54,160.13 728.76,161.10 730.99,162.08 733.21,163.06 735.43,164.03 737.65,165.01 739.88,165.83 742.10,166.66 744.32,167.49 746.55,167.34 748.77,167.19 750.99,167.04 753.22,166.89 755.44,166.74 757.66,166.59 759.88,166.44 762.11,166.30 764.33,167.18 766.55,168.06 768.78,168.95 771.00,169.83 773.22,170.87 775.44,171.90 777.67,172.93 779.89,173.97 782.11,175.00 784.34,176.03 786.56,181.09 788.78,186.14 791.01,191.20 793.23,196.26 795.45,201.31 797.67,205.33 799.90,209.36 802.12,213.38 804.34,217.40 806.57,225.66 808.79,233.92 811.01,242.18 813.24,250.44 815.46,258.70 817.68,266.96 819.90,271.20 822.13,275.44 824.35,279.46 826.57,283.48 828.80,287.50 831.02,291.52 833.24,295.54 835.47,299.56 837.69,303.58 839.91,303.76 842.13,303.94 844.36,304.12 846.58,304.30 848.80,304.49 851.03,304.67 853.25,304.85 855.47,305.03 857.70,305.43 859.92,305.82 862.14,306.22 864.36,306.56 866.59,306.90 868.81,307.24 871.03,307.57 873.26,308.41 875.48,309.24 877.70,310.07 879.93,308.30 882.15,306.53 884.37,306.21" fill="none" stroke="#0000ff" stroke-width="1.1" stroke-linejoin="round" stroke-linecap="square"/>
<polyline points="284.17,99.38 286.39,100.69 288.61,102.00 290.84,103.30 293.06,104.61 295.28,105.92 297.50,107.23 299.73,108.53 301.95,109.84 304.17,111.15 306.40,112.46 308.62,113.77 310.84,115.07 313.07,116.38 315.29,117.69 317.51,119.00 319.73,120.30 321.96,121.61 324.18,123.74 326.40,125.87 328.63,128.00 330.85,130.12 333.07,132.25 335.29,134.38 337.52,136.51 339.74,137.33 341.96,138.15 344.19,138.97 346.41,139.79 348.63,140.61 350.86,141.43 353.08,142.25 355.30,143.07 357.52,143.89 359.75,144.71 361.97,145.53 364.19,146.35 366.42,147.17 368.64,147.99 370.86,148.81 373.09,150.39 375.31,151.98 377.53,153.57 379.75,155.15 381.98,156.74 384.20,158.33 386.42,159.91 388.65,161.50 390.87,162.27 393.09,163.03 395.32,163.80 397.54,164.57 399.76,165.33 401.98,166.10 404.21,166.87 406.43,167.63 408.65,168.40 410.88,169.17 413.10,169.93 415.32,170.70 417.55,171.47 419.77,171.52 421.99,171.57 424.21,171.62 426.44,171.67 428.66,171.72 430.88,171.77 433.11,171.82 435.33,171.88 437.55,171.93 439.78,171.21 442.00,170.50 444.22,169.78 446.44,169.06 448.67,168.35 450.89,167.63 453.11,166.92 455.34,166.20 457.56,165.49 459.78,164.77 462.00,164.06 464.23,163.71 466.45,163.36 468.67,163.01 470.90,162.66 473.12,162.31 475.34,161.96 477.57,161.61 479.79,161.26 482.01,160.92 484.23,160.57 486.46,160.93 488.68,161.30 490.90,161.67 493.13,162.03 495.35,162.40 497.57,162.77 499.80,163.13 502.02,163.50 504.24,163.87 506.46,164.93 508.69,165.99 510.91,167.06 513.13,168.12 515.36,169.18 517.58,170.25 519.80,171.31 522.03,172.37 524.25,173.44 526.47,174.50 528.69,175.56 530.92,176.26 533.14,176.96 535.36,177.65 537.59,178.35 539.81,179.05 542.03,179.74 544.26,180.44 546.48,180.67 548.70,180.90 550.92,181.13 553.15,181.36 555.37,181.60 557.59,181.83 559.82,182.06 562.04,182.29 564.26,182.52 566.48,182.75 568.71,182.98 570.93,183.21 573.15,182.75 575.38,182.28 577.60,181.82 579.82,181.35 582.05,180.89 584.27,179.61 586.49,178.33 588.71,177.06 590.94,175.78 593.16,174.50 595.38,173.23 597.61,171.95 599.83,170.67 602.05,169.40 604.28,168.12 606.50,166.84 608.72,165.57 610.94,164.29 613.17,163.48 615.39,162.67 617.61,161.86 619.84,160.38 622.06,158.90 624.28,157.43 626.51,155.95 628.73,154.47 630.95,153.00 633.17,151.52 635.40,150.04 637.62,148.57 639.84,147.09 642.07,145.61 644.29,144.14 646.51,142.66 648.74,141.18 650.96,140.52 653.18,140.40 655.40,140.29 657.63,140.17 659.85,140.06 662.07,139.94 664.30,139.83 666.52,139.72 668.74,139.60 670.96,139.49 673.19,139.37 675.41,139.26 677.63,139.14 679.86,139.03 682.08,138.91 684.30,139.01 686.53,139.77 688.75,140.53 690.97,141.28 693.19,142.04 695.42,142.80 697.64,143.56 699.86,144.32 702.09,145.08 704.31,145.84 706.53,146.60 708.76,147.36 710.98,148.11 713.20,149.36 715.42,150.61 717.65,151.85 719.87,152.55 722.09,153.25 724.32,153.94 726.54,154.64 728.76,155.33 730.99,156.03 733.21,156.72 735.43,157.42 737.65,158.11 739.88,158.74 742.10,159.36 744.32,159.98 746.55,160.60 748.77,161.22 750.99,161.63 753.22,162.05 755.44,162.46 757.66,162.87 759.88,163.29 762.11,163.70 764.33,164.63 766.55,165.56 768.78,166.49 771.00,167.42 773.22,168.35 775.44,169.28 777.67,170.21 779.89,170.65 782.11,171.09 784.34,171.54 786.56,173.99 788.78,176.44 791.01,178.90 793.23,181.35 795.45,183.80 797.67,186.26 799.90,188.71 802.12,191.16 804.34,193.62 806.57,198.26 808.79,202.91 811.01,207.56 813.24,212.20 815.46,216.85 817.68,221.50 819.90,226.14 822.13,230.79 824.35,235.33 826.57,239.87 828.80,244.40 831.02,248.42 833.24,252.45 835.47,256.47 837.69,260.49 839.91,264.71 842.13,268.93 844.36,273.15 846.58,277.37 848.80,281.59 851.03,285.81 853.25,288.02 855.47,290.23 857.70,292.44 859.92,294.65 862.14,296.86 864.36,299.04 866.59,301.22 868.81,303.40 871.03,305.57 873.26,306.08 875.48,306.59 877.70,307.10 879.93,306.30 882.15,305.51 884.37,305.44" fill="none" stroke="#ffa500" stroke-width="1.1" stroke-linejoin="round" stroke-linecap="square"/>
<polyline points="350.86,120.40 353.08,121.47 355.30,122.53 357.52,123.60 359.75,124.66 361.97,125.72 364.19,126.79 366.42,127.85 368.64,128.91 370.86,129.98 373.09,131.43 375.31,132.87 377.53,134.32 379.75,135.77 381.98,137.21 384.20,138.66 386.42,140.11 388.65,141.56 390.87,143.00 393.09,144.45 395.32,145.90 397.54,147.35 399.76,148.79 401.98,150.24 404.21,151.69 406.43,152.48 408.65,153.27 410.88,154.07 413.10,154.86 415.32,155.65 417.55,156.45 419.77,156.88 421.99,157.32 424.21,157.75 426.44,158.19 428.66,158.62 430.88,159.06 433.11,159.50 435.33,159.93 437.55,160.37 439.78,160.80 442.00,161.24 444.22,161.67 446.44,162.11 448.67,162.54 450.89,162.98 453.11,163.42 455.34,163.85 457.56,163.88 459.78,163.90 462.00,163.93 464.23,164.14 466.45,164.35 468.67,164.55 470.90,164.76 473.12,164.97 475.34,165.18 477.57,165.39 479.79,165.60 482.01,165.81 484.23,166.02 486.46,166.23 488.68,166.43 490.90,166.64 493.13,166.85 495.35,167.06 497.57,167.27 499.80,167.48 502.02,167.69 504.24,167.90 506.46,168.07 508.69,168.24 510.91,168.42 513.13,168.59 515.36,168.77 517.58,168.94 519.80,169.11 522.03,169.29 524.25,169.46 526.47,169.64 528.69,169.81 530.92,169.98 533.14,170.16 535.36,170.33 537.59,170.51 539.81,170.68 542.03,170.85 544.26,171.03 546.48,170.97 548.70,170.91 550.92,170.85 553.15,171.15 555.37,171.45 557.59,171.75 559.82,172.05 562.04,172.34 564.26,172.64 566.48,172.94 568.71,173.24 570.93,173.54 573.15,173.84 575.38,174.14 577.60,174.44 579.82,174.74 582.05,175.03 584.27,174.93 586.49,174.82 588.71,174.71 590.94,174.61 593.16,174.50 595.38,174.39 597.61,174.10 599.83,173.81 602.05,173.52 604.28,173.23 606.50,172.94 608.72,172.65 610.94,172.36 613.17,172.07 615.39,171.78 617.61,171.49 619.84,170.87 622.06,170.25 624.28,169.63 626.51,169.00 628.73,168.38 630.95,167.76 633.17,167.13 635.40,166.51 637.62,165.89 639.84,164.92 642.07,163.95 644.29,162.98 646.51,162.00 648.74,161.03 650.96,160.06 653.18,159.37 655.40,158.67 657.63,157.98 659.85,157.28 662.07,156.58 664.30,155.89 666.52,155.19 668.74,154.50 670.96,153.80 673.19,153.11 675.41,152.41 677.63,151.72 679.86,151.25 682.08,150.79 684.30,150.43 686.53,150.07 688.75,149.71 690.97,149.35 693.19,149.00 695.42,148.64 697.64,148.28 699.86,147.92 702.09,147.56 704.31,147.20 706.53,146.84 708.76,146.48 710.98,146.12 713.20,146.01 715.42,145.89 717.65,146.19 719.87,146.48 722.09,146.77 724.32,147.06 726.54,147.35 728.76,147.64 730.99,147.93 733.21,148.22 735.43,148.51 737.65,148.80 739.88,149.05 742.10,149.31 744.32,149.56 746.55,149.81 748.77,150.07 750.99,150.32 753.22,150.91 755.44,151.49 757.66,152.08 759.88,152.66 762.11,153.25 764.33,154.10 766.55,154.94 768.78,155.78 771.00,156.63 773.22,157.47 775.44,158.32 777.67,159.16 779.89,160.01 782.11,160.85 784.34,161.70 786.56,163.27 788.78,164.84 791.01,166.42 793.23,167.99 795.45,169.57 797.67,171.14 799.90,172.72 802.12,174.29 804.34,175.87 806.57,178.50 808.79,181.13 811.01,183.77 813.24,186.40 815.46,189.03 817.68,191.56 819.90,194.09 822.13,196.62 824.35,199.10 826.57,201.58 828.80,204.05 831.02,206.53 833.24,209.00 835.47,211.48 837.69,213.95 839.91,216.53 842.13,219.10 844.36,221.68 846.58,224.01 848.80,226.34 851.03,228.68 853.25,231.01 855.47,233.34 857.70,235.67 859.92,238.00 862.14,240.33 864.36,242.65 866.59,244.96 868.81,247.28 871.03,249.60 873.26,252.17 875.48,254.75 877.70,257.33 879.93,259.25 882.15,261.18 884.37,263.47" fill="none" stroke="#800080" stroke-width="1.1" stroke-linejoin="round" stroke-linecap="square"/>
<g shape-rendering="crispEdges">
<g fill="#3079b3">
<rect x="219" y="458" width="3" height="14.30"/>
<rect x="221" y="458" width="3" height="14.30"/>
<rect x="223" y="458" width="3" height="14.30"/>
<rect x="225" y="458" width="3" height="14.30"/>
<rect x="228" y="458" width="2" height="14.30"/>
<rect x="230" y="458" width="3" height="14.30"/>
<rect x="232" y="458" width="3" height="14.30"/>
<rect x="234" y="458" width="3" height="14.30"/>
<rect x="237" y="458" width="2" height="14.30"/>
<rect x="239" y="458" width="3" height="14.30"/>
<rect x="241" y="458" width="3" height="14.30"/>
<rect x="243" y="458" width="3" height="14.30"/>
<rect x="245" y="458" width="3" height="14.30"/>
<rect x="248" y="458" width="2" height="14.30"/>
<rect x="250" y="458" width="3" height="14.30"/>
<rect x="252" y="458" width="3" height="14.30"/>
<rect x="254" y="458" width="3" height="14.30"/>
<rect x="257" y="458" width="2" height="14.30"/>
<rect x="259" y="458" width="3" height="14.30"/>
<rect x="261" y="458" width="3" height="14.30"/>
<rect x="263" y="458" width="3" height="14.30"/>
<rect x="265" y="458" width="3" height="14.30"/>
<rect x="268" y="458" width="2" height="14.30"/>
<rect x="270" y="458" width="3" height="14.30"/>
<rect x="272" y="439" width="3" height="33.30"/>
<rect x="274" y="439" width="3" height="33.30"/>
<rect x="277" y="439" width="2" height="33.30"/>
<rect x="279" y="439" width="3" height="33.30"/>
<rect x="281" y="439" width="3" height="33.30"/>
<rect x="283" y="439" width="3" height="33.30"/>
<rect x="285" y="439" width="3" height="33.30"/>
<rect x="288" y="439" width="2" height="33.30"/>
<rect x="290" y="439" width="3" height="33.30"/>
<rect x="292" y="439" width="3" height="33.30"/>
<rect x="294" y="439" width="3" height="33.30"/>
<rect x="297" y="439" width="2" height="33.30"/>
<rect x="299" y="439" width="3" height="33.30"/>
<rect x="301" y="439" width="3" height="33.30"/>
<rect x="303" y="439" width="3" height="33.30"/>
<rect x="305" y="439" width="3" height="33.30"/>
<rect x="308" y="439" width="2" height="33.30"/>
<rect x="310" y="439" width="3" height="33.30"/>
<rect x="312" y="439" width="3" height="33.30"/>
<rect x="314" y="439" width="3" height="33.30"/>
<rect x="317" y="439" width="2" height="33.30"/>
<rect x="319" y="439" width="3" height="33.30"/>
<rect x="321" y="439" width="3" height="33.30"/>
<rect x="323" y="422" width="3" height="50.30"/>
<rect x="325" y="422" width="3" height="50.30"/>
<rect x="328" y="422" width="2" height="50.30"/>
<rect x="330" y="422" width="3" height="50.30"/>
<rect x="332" y="422" width="3" height="50.30"/>
<rect x="334" y="422" width="3" height="50.30"/>
<rect x="337" y="422" width="2" height="50.30"/>
<rect x="339" y="422" width="3" height="50.30"/>
<rect x="341" y="422" width="3" height="50.30"/>
<rect x="343" y="422" width="3" height="50.30"/>
<rect x="345" y="422" width="3" height="50.30"/>
<rect x="348" y="422" width="2" height="50.30"/>
<rect x="350" y="422" width="3" height="50.30"/>
<rect x="352" y="422" width="3" height="50.30"/>
<rect x="354" y="422" width="3" height="50.30"/>
<rect x="357" y="422" width="2" height="50.30"/>
<rect x="359" y="422" width="3" height="50.30"/>
<rect x="361" y="422" width="3" height="50.30"/>
<rect x="363" y="422" width="3" height="50.30"/>
<rect x="365" y="422" width="3" height="50.30"/>
<rect x="368" y="422" width="3" height="50.30"/>
<rect x="370" y="422" width="3" height="50.30"/>
<rect x="372" y="414" width="3" height="58.30"/>
<rect x="374" y="414" width="3" height="58.30"/>
<rect x="377" y="414" width="2" height="58.30"/>
<rect x="379" y="414" width="3" height="58.30"/>
<rect x="381" y="414" width="3" height="58.30"/>
<rect x="383" y="414" width="3" height="58.30"/>
<rect x="385" y="414" width="3" height="58.30"/>
<rect x="388" y="414" width="3" height="58.30"/>
<rect x="390" y="414" width="3" height="58.30"/>
<rect x="392" y="414" width="3" height="58.30"/>
<rect x="394" y="414" width="3" height="58.30"/>
<rect x="397" y="414" width="2" height="58.30"/>
<rect x="399" y="414" width="3" height="58.30"/>
<rect x="401" y="414" width="3" height="58.30"/>
<rect x="403" y="414" width="3" height="58.30"/>
<rect x="405" y="414" width="3" height="58.30"/>
<rect x="408" y="414" width="3" height="58.30"/>
<rect x="410" y="414" width="3" height="58.30"/>
<rect x="412" y="414" width="3" height="58.30"/>
<rect x="414" y="414" width="3" height="58.30"/>
<rect x="417" y="414" width="2" height="58.30"/>
<rect x="419" y="402" width="3" height="70.30"/>
<rect x="421" y="402" width="3" height="70.30"/>
<rect x="423" y="402" width="3" height="70.30"/>
<rect x="426" y="402" width="2" height="70.30"/>
<rect x="428" y="402" width="3" height="70.30"/>
<rect x="430" y="402" width="3" height="70.30"/>
<rect x="432" y="402" width="3" height="70.30"/>
<rect x="434" y="402" width="3" height="70.30"/>
<rect x="437" y="402" width="2" height="70.30"/>
<rect x="439" y="402" width="3" height="70.30"/>
<rect x="441" y="402" width="3" height="70.30"/>
<rect x="443" y="402" width="3" height="70.30"/>
<rect x="446" y="402" width="2" height="70.30"/>
<rect x="448" y="402" width="3" height="70.30"/>
<rect x="450" y="402" width="3" height="70.30"/>
<rect x="452" y="402" width="3" height="70.30"/>
<rect x="454" y="402" width="3" height="70.30"/>
<rect x="457" y="402" width="2" height="70.30"/>
<rect x="459" y="402" width="3" height="70.30"/>
<rect x="461" y="402" width="3" height="70.30"/>
<rect x="463" y="409" width="3" height="63.30"/>
<rect x="466" y="409" width="2" height="63.30"/>
<rect x="468" y="409" width="3" height="63.30"/>
<rect x="470" y="409" width="3" height="63.30"/>
<rect x="472" y="409" width="3" height="63.30"/>
<rect x="474" y="409" width="3" height="63.30"/>
<rect x="477" y="409" width="2" height="63.30"/>
<rect x="479" y="409" width="3" height="63.30"/>
<rect x="481" y="409" width="3" height="63.30"/>
<rect x="483" y="409" width="3" height="63.30"/>
<rect x="486" y="409" width="2" height="63.30"/>
<rect x="488" y="409" width="3" height="63.30"/>
<rect x="490" y="409" width="3" height="63.30"/>
<rect x="492" y="409" width="3" height="63.30"/>
<rect x="494" y="409" width="3" height="63.30"/>
<rect x="497" y="409" width="2" height="63.30"/>
<rect x="499" y="409" width="3" height="63.30"/>
<rect x="501" y="409" width="3" height="63.30"/>
<rect x="503" y="409" width="3" height="63.30"/>
<rect x="506" y="433" width="2" height="39.30"/>
<rect x="508" y="433" width="3" height="39.30"/>
<rect x="510" y="433" width="3" height="39.30"/>
<rect x="512" y="433" width="3" height="39.30"/>
<rect x="514" y="433" width="3" height="39.30"/>
<rect x="517" y="433" width="2" height="39.30"/>
<rect x="519" y="433" width="3" height="39.30"/>
<rect x="521" y="433" width="3" height="39.30"/>
<rect x="523" y="433" width="3" height="39.30"/>
<rect x="526" y="433" width="2" height="39.30"/>
<rect x="528" y="433" width="3" height="39.30"/>
<rect x="530" y="433" width="3" height="39.30"/>
<rect x="532" y="433" width="3" height="39.30"/>
<rect x="534" y="433" width="3" height="39.30"/>
<rect x="537" y="433" width="2" height="39.30"/>
<rect x="539" y="433" width="3" height="39.30"/>
<rect x="541" y="433" width="3" height="39.30"/>
<rect x="543" y="433" width="3" height="39.30"/>
<rect x="546" y="438" width="2" height="34.30"/>
<rect x="548" y="438" width="3" height="34.30"/>
<rect x="550" y="438" width="3" height="34.30"/>
<rect x="552" y="438" width="3" height="34.30"/>
<rect x="554" y="438" width="3" height="34.30"/>
<rect x="557" y="438" width="2" height="34.30"/>
<rect x="559" y="438" width="3" height="34.30"/>
<rect x="561" y="438" width="3" height="34.30"/>
<rect x="563" y="438" width="3" height="34.30"/>
<rect x="566" y="438" width="2" height="34.30"/>
<rect x="568" y="438" width="3" height="34.30"/>
<rect x="570" y="438" width="3" height="34.30"/>
<rect x="572" y="438" width="3" height="34.30"/>
<rect x="574" y="438" width="3" height="34.30"/>
<rect x="577" y="438" width="2" height="34.30"/>
<rect x="579" y="438" width="3" height="34.30"/>
<rect x="581" y="438" width="3" height="34.30"/>
<rect x="583" y="431" width="3" height="41.30"/>
<rect x="586" y="431" width="2" height="41.30"/>
<rect x="588" y="431" width="3" height="41.30"/>
<rect x="590" y="431" width="3" height="41.30"/>
<rect x="592" y="431" width="3" height="41.30"/>
<rect x="594" y="431" width="3" height="41.30"/>
<rect x="597" y="431" width="2" height="41.30"/>
<rect x="599" y="431" width="3" height="41.30"/>
<rect x="601" y="431" width="3" height="41.30"/>
<rect x="603" y="431" width="3" height="41.30"/>
<rect x="606" y="431" width="2" height="41.30"/>
<rect x="608" y="431" width="3" height="41.30"/>
<rect x="610" y="431" width="3" height="41.30"/>
<rect x="612" y="431" width="3" height="41.30"/>
<rect x="614" y="431" width="3" height="41.30"/>
<rect x="617" y="431" width="2" height="41.30"/>
<rect x="619" y="440" width="3" height="32.30"/>
<rect x="621" y="440" width="3" height="32.30"/>
<rect x="623" y="440" width="3" height="32.30"/>
<rect x="626" y="440" width="2" height="32.30"/>
<rect x="628" y="440" width="3" height="32.30"/>
<rect x="630" y="440" width="3" height="32.30"/>
<rect x="632" y="440" width="3" height="32.30"/>
<rect x="634" y="440" width="3" height="32.30"/>
<rect x="637" y="440" width="2" height="32.30"/>
<rect x="639" y="440" width="3" height="32.30"/>
<rect x="641" y="440" width="3" height="32.30"/>
<rect x="643" y="440" width="3" height="32.30"/>
<rect x="646" y="440" width="2" height="32.30"/>
<rect x="648" y="440" width="3" height="32.30"/>
<rect x="650" y="440" width="3" height="32.30"/>
<rect x="652" y="441" width="3" height="31.30"/>
<rect x="654" y="441" width="3" height="31.30"/>
<rect x="657" y="441" width="2" height="31.30"/>
<rect x="659" y="441" width="3" height="31.30"/>
<rect x="661" y="441" width="3" height="31.30"/>
<rect x="663" y="441" width="3" height="31.30"/>
<rect x="666" y="441" width="2" height="31.30"/>
<rect x="668" y="441" width="3" height="31.30"/>
<rect x="670" y="441" width="3" height="31.30"/>
<rect x="672" y="441" width="3" height="31.30"/>
<rect x="674" y="441" width="3" height="31.30"/>
<rect x="677" y="441" width="2" height="31.30"/>
<rect x="679" y="441" width="3" height="31.30"/>
<rect x="681" y="441" width="3" height="31.30"/>
<rect x="683" y="444" width="3" height="28.30"/>
<rect x="686" y="444" width="2" height="28.30"/>
<rect x="688" y="444" width="3" height="28.30"/>
<rect x="690" y="444" width="3" height="28.30"/>
<rect x="692" y="444" width="3" height="28.30"/>
<rect x="694" y="444" width="3" height="28.30"/>
<rect x="697" y="444" width="3" height="28.30"/>
<rect x="699" y="444" width="3" height="28.30"/>
<rect x="701" y="444" width="3" height="28.30"/>
<rect x="703" y="444" width="3" height="28.30"/>
<rect x="706" y="444" width="2" height="28.30"/>
<rect x="708" y="444" width="3" height="28.30"/>
<rect x="710" y="444" width="3" height="28.30"/>
<rect x="712" y="438" width="3" height="34.30"/>
<rect x="714" y="438" width="3" height="34.30"/>
<rect x="717" y="438" width="3" height="34.30"/>
<rect x="719" y="438" width="3" height="34.30"/>
<rect x="721" y="438" width="3" height="34.30"/>
<rect x="723" y="438" width="3" height="34.30"/>
<rect x="726" y="438" width="2" height="34.30"/>
<rect x="728" y="438" width="3" height="34.30"/>
<rect x="730" y="438" width="3" height="34.30"/>
<rect x="732" y="438" width="3" height="34.30"/>
<rect x="734" y="438" width="3" height="34.30"/>
<rect x="737" y="438" width="3" height="34.30"/>
<rect x="739" y="442" width="3" height="30.30"/>
<rect x="741" y="442" width="3" height="30.30"/>
<rect x="743" y="442" width="3" height="30.30"/>
<rect x="746" y="442" width="2" height="30.30"/>
<rect x="748" y="442" width="3" height="30.30"/>
<rect x="750" y="442" width="3" height="30.30"/>
<rect x="752" y="442" width="3" height="30.30"/>
<rect x="755" y="442" width="2" height="30.30"/>
<rect x="757" y="442" width="3" height="30.30"/>
<rect x="759" y="442" width="3" height="30.30"/>
<rect x="761" y="442" width="3" height="30.30"/>
<rect x="763" y="442" width="3" height="30.30"/>
<rect x="766" y="442" width="2" height="30.30"/>
<rect x="768" y="442" width="3" height="30.30"/>
<rect x="770" y="442" width="3" height="30.30"/>
<rect x="772" y="442" width="3" height="30.30"/>
<rect x="775" y="442" width="2" height="30.30"/>
<rect x="777" y="442" width="3" height="30.30"/>
<rect x="779" y="442" width="3" height="30.30"/>
<rect x="781" y="442" width="3" height="30.30"/>
<rect x="783" y="442" width="3" height="30.30"/>
<rect x="786" y="396" width="2" height="76.30"/>
<rect x="788" y="396" width="3" height="76.30"/>
<rect x="790" y="396" width="3" height="76.30"/>
<rect x="792" y="396" width="3" height="76.30"/>
<rect x="795" y="396" width="2" height="76.30"/>
<rect x="797" y="396" width="3" height="76.30"/>
<rect x="799" y="396" width="3" height="76.30"/>
<rect x="801" y="396" width="3" height="76.30"/>
<rect x="803" y="396" width="3" height="76.30"/>
<rect x="806" y="383" width="2" height="89.30"/>
<rect x="808" y="383" width="3" height="89.30"/>
<rect x="810" y="383" width="3" height="89.30"/>
<rect x="812" y="383" width="3" height="89.30"/>
<rect x="815" y="383" width="2" height="89.30"/>
<rect x="817" y="383" width="3" height="89.30"/>
<rect x="819" y="383" width="3" height="89.30"/>
<rect x="821" y="383" width="3" height="89.30"/>
<rect x="823" y="367" width="3" height="105.30"/>
<rect x="826" y="367" width="2" height="105.30"/>
<rect x="828" y="367" width="3" height="105.30"/>
<rect x="830" y="367" width="3" height="105.30"/>
<rect x="832" y="367" width="3" height="105.30"/>
<rect x="835" y="367" width="2" height="105.30"/>
<rect x="837" y="367" width="3" height="105.30"/>
<rect x="839" y="416" width="3" height="56.30"/>
<rect x="841" y="416" width="3" height="56.30"/>
<rect x="843" y="416" width="3" height="56.30"/>
<rect x="846" y="416" width="2" height="56.30"/>
<rect x="848" y="416" width="3" height="56.30"/>
<rect x="850" y="416" width="3" height="56.30"/>
<rect x="852" y="415" width="3" height="57.30"/>
<rect x="855" y="415" width="2" height="57.30"/>
<rect x="857" y="415" width="3" height="57.30"/>
<rect x="859" y="415" width="3" height="57.30"/>
<rect x="861" y="415" width="3" height="57.30"/>
<rect x="863" y="434" width="3" height="38.30"/>
<rect x="866" y="434" width="2" height="38.30"/>
<rect x="868" y="434" width="3" height="38.30"/>
<rect x="870" y="434" width="3" height="38.30"/>
<rect x="872" y="442" width="3" height="30.30"/>
<rect x="875" y="442" width="2" height="30.30"/>
<rect x="877" y="442" width="3" height="30.30"/>
<rect x="879" y="409" width="3" height="63.30"/>
<rect x="881" y="409" width="3" height="63.30"/>
<rect x="883" y="436" width="3" height="36.30"/>
</g>
<g fill="#008000">
<rect x="220" y="459" width="1" height="13.30"/>
<rect x="222" y="459" width="1" height="13.30"/>
<rect x="224" y="459" width="1" height="13.30"/>
<rect x="226" y="459" width="1" height="13.30"/>
<rect x="231" y="459" width="1" height="13.30"/>
<rect x="233" y="459" width="1" height="13.30"/>
<rect x="235" y="459" width="1" height="13.30"/>
<rect x="240" y="459" width="1" height="13.30"/>
<rect x="242" y="459" width="1" height="13.30"/>
<rect x="244" y="459" width="1" height="13.30"/>
<rect x="246" y="459" width="1" height="13.30"/>
<rect x="251" y="459" width="1" height="13.30"/>
<rect x="253" y="459" width="1" height="13.30"/>
<rect x="255" y="459" width="1" height="13.30"/>
<rect x="260" y="459" width="1" height="13.30"/>
<rect x="262" y="459" width="1" height="13.30"/>
<rect x="264" y="459" width="1" height="13.30"/>
<rect x="266" y="459" width="1" height="13.30"/>
<rect x="271" y="459" width="1" height="13.30"/>
<rect x="420" y="403" width="1" height="69.30"/>
<rect x="422" y="403" width="1" height="69.30"/>
<rect x="424" y="403" width="1" height="69.30"/>
<rect x="429" y="403" width="1" height="69.30"/>
<rect x="431" y="403" width="1" height="69.30"/>
<rect x="433" y="403" width="1" height="69.30"/>
<rect x="435" y="403" width="1" height="69.30"/>
<rect x="440" y="403" width="1" height="69.30"/>
<rect x="442" y="403" width="1" height="69.30"/>
<rect x="444" y="403" width="1" height="69.30"/>
<rect x="449" y="403" width="1" height="69.30"/>
<rect x="451" y="403" width="1" height="69.30"/>
<rect x="453" y="403" width="1" height="69.30"/>
<rect x="455" y="403" width="1" height="69.30"/>
<rect x="460" y="403" width="1" height="69.30"/>
<rect x="462" y="403" width="1" height="69.30"/>
<rect x="549" y="439" width="1" height="33.30"/>
<rect x="551" y="439" width="1" height="33.30"/>
<rect x="553" y="439" width="1" height="33.30"/>
<rect x="555" y="439" width="1" height="33.30"/>
<rect x="560" y="439" width="1" height="33.30"/>
<rect x="562" y="439" width="1" height="33.30"/>
<rect x="564" y="439" width="1" height="33.30"/>
<rect x="569" y="439" width="1" height="33.30"/>
<rect x="571" y="439" width="1" height="33.30"/>
<rect x="573" y="439" width="1" height="33.30"/>
<rect x="575" y="439" width="1" height="33.30"/>
<rect x="580" y="439" width="1" height="33.30"/>
<rect x="582" y="439" width="1" height="33.30"/>
<rect x="584" y="432" width="1" height="40.30"/>
<rect x="589" y="432" width="1" height="40.30"/>
<rect x="591" y="432" width="1" height="40.30"/>
<rect x="593" y="432" width="1" height="40.30"/>
<rect x="595" y="432" width="1" height="40.30"/>
<rect x="600" y="432" width="1" height="40.30"/>
<rect x="602" y="432" width="1" height="40.30"/>
<rect x="604" y="432" width="1" height="40.30"/>
<rect x="609" y="432" width="1" height="40.30"/>
<rect x="611" y="432" width="1" height="40.30"/>
<rect x="613" y="432" width="1" height="40.30"/>
<rect x="615" y="432" width="1" height="40.30"/>
<rect x="620" y="441" width="1" height="31.30"/>
<rect x="622" y="441" width="1" height="31.30"/>
<rect x="624" y="441" width="1" height="31.30"/>
<rect x="629" y="441" width="1" height="31.30"/>
<rect x="631" y="441" width="1" height="31.30"/>
<rect x="633" y="441" width="1" height="31.30"/>
<rect x="635" y="441" width="1" height="31.30"/>
<rect x="640" y="441" width="1" height="31.30"/>
<rect x="642" y="441" width="1" height="31.30"/>
<rect x="644" y="441" width="1" height="31.30"/>
<rect x="649" y="441" width="1" height="31.30"/>
<rect x="651" y="441" width="1" height="31.30"/>
<rect x="684" y="445" width="1" height="27.30"/>
<rect x="689" y="445" width="1" height="27.30"/>
<rect x="691" y="445" width="1" height="27.30"/>
<rect x="693" y="445" width="1" height="27.30"/>
<rect x="695" y="445" width="1" height="27.30"/>
<rect x="698" y="445" width="1" height="27.30"/>
<rect x="700" y="445" width="1" height="27.30"/>
<rect x="702" y="445" width="1" height="27.30"/>
<rect x="704" y="445" width="1" height="27.30"/>
<rect x="709" y="445" width="1" height="27.30"/>
<rect x="711" y="445" width="1" height="27.30"/>
<rect x="740" y="443" width="1" height="29.30"/>
<rect x="742" y="443" width="1" height="29.30"/>
<rect x="744" y="443" width="1" height="29.30"/>
<rect x="749" y="443" width="1" height="29.30"/>
<rect x="751" y="443" width="1" height="29.30"/>
<rect x="753" y="443" width="1" height="29.30"/>
<rect x="758" y="443" width="1" height="29.30"/>
<rect x="760" y="443" width="1" height="29.30"/>
<rect x="762" y="443" width="1" height="29.30"/>
<rect x="824" y="368" width="1" height="104.30"/>
<rect x="829" y="368" width="1" height="104.30"/>
<rect x="831" y="368" width="1" height="104.30"/>
<rect x="833" y="368" width="1" height="104.30"/>
<rect x="838" y="368" width="1" height="104.30"/>
<rect x="864" y="435" width="1" height="37.30"/>
<rect x="869" y="435" width="1" height="37.30"/>
<rect x="871" y="435" width="1" height="37.30"/>
<rect x="880" y="410" width="1" height="62.30"/>
<rect x="882" y="410" width="1" height="62.30"/>
</g>
<g fill="#ff0000">
<rect x="273" y="440" width="1" height="32.30"/>
<rect x="275" y="440" width="1" height="32.30"/>
<rect x="280" y="440" width="1" height="32.30"/>
<rect x="282" y="440" width="1" height="32.30"/>
<rect x="284" y="440" width="1" height="32.30"/>
<rect x="286" y="440" width="1" height="32.30"/>
<rect x="291" y="440" width="1" height="32.30"/>
<rect x="293" y="440" width="1" height="32.30"/>
<rect x="295" y="440" width="1" height="32.30"/>
<rect x="300" y="440" width="1" height="32.30"/>
<rect x="302" y="440" width="1" height="32.30"/>
<rect x="304" y="440" width="1" height="32.30"/>
<rect x="306" y="440" width="1" height="32.30"/>
<rect x="311" y="440" width="1" height="32.30"/>
<rect x="313" y="440" width="1" height="32.30"/>
<rect x="315" y="440" width="1" height="32.30"/>
<rect x="320" y="440" width="1" height="32.30"/>
<rect x="322" y="440" width="1" height="32.30"/>
<rect x="324" y="423" width="1" height="49.30"/>
<rect x="326" y="423" width="1" height="49.30"/>
<rect x="331" y="423" width="1" height="49.30"/>
<rect x="333" y="423" width="1" height="49.30"/>
<rect x="335" y="423" width="1" height="49.30"/>
<rect x="340" y="423" width="1" height="49.30"/>
<rect x="342" y="423" width="1" height="49.30"/>
<rect x="344" y="423" width="1" height="49.30"/>
<rect x="346" y="423" width="1" height="49.30"/>
<rect x="351" y="423" width="1" height="49.30"/>
<rect x="353" y="423" width="1" height="49.30"/>
<rect x="355" y="423" width="1" height="49.30"/>
<rect x="360" y="423" width="1" height="49.30"/>
<rect x="362" y="423" width="1" height="49.30"/>
<rect x="364" y="423" width="1" height="49.30"/>
<rect x="366" y="423" width="1" height="49.30"/>
<rect x="369" y="423" width="1" height="49.30"/>
<rect x="371" y="423" width="1" height="49.30"/>
<rect x="373" y="415" width="1" height="57.30"/>
<rect x="375" y="415" width="1" height="57.30"/>
<rect x="380" y="415" width="1" height="57.30"/>
<rect x="382" y="415" width="1" height="57.30"/>
<rect x="384" y="415" width="1" height="57.30"/>
<rect x="386" y="415" width="1" height="57.30"/>
<rect x="389" y="415" width="1" height="57.30"/>
<rect x="391" y="415" width="1" height="57.30"/>
<rect x="393" y="415" width="1" height="57.30"/>
<rect x="395" y="415" width="1" height="57.30"/>
<rect x="400" y="415" width="1" height="57.30"/>
<rect x="402" y="415" width="1" height="57.30"/>
<rect x="404" y="415" width="1" height="57.30"/>
<rect x="406" y="415" width="1" height="57.30"/>
<rect x="409" y="415" width="1" height="57.30"/>
<rect x="411" y="415" width="1" height="57.30"/>
<rect x="413" y="415" width="1" height="57.30"/>
<rect x="415" y="415" width="1" height="57.30"/>
<rect x="464" y="410" width="1" height="62.30"/>
<rect x="469" y="410" width="1" height="62.30"/>
<rect x="471" y="410" width="1" height="62.30"/>
<rect x="473" y="410" width="1" height="62.30"/>
<rect x="475" y="410" width="1" height="62.30"/>
<rect x="480" y="410" width="1" height="62.30"/>
<rect x="482" y="410" width="1" height="62.30"/>
<rect x="484" y="410" width="1" height="62.30"/>
<rect x="489" y="410" width="1" height="62.30"/>
<rect x="491" y="410" width="1" height="62.30"/>
<rect x="493" y="410" width="1" height="62.30"/>
<rect x="495" y="410" width="1" height="62.30"/>
<rect x="500" y="410" width="1" height="62.30"/>
<rect x="502" y="410" width="1" height="62.30"/>
<rect x="504" y="410" width="1" height="62.30"/>
<rect x="509" y="434" width="1" height="38.30"/>
<rect x="511" y="434" width="1" height="38.30"/>
<rect x="513" y="434" width="1" height="38.30"/>
<rect x="515" y="434" width="1" height="38.30"/>
<rect x="520" y="434" width="1" height="38.30"/>
<rect x="522" y="434" width="1" height="38.30"/>
<rect x="524" y="434" width="1" height="38.30"/>
<rect x="529" y="434" width="1" height="38.30"/>
<rect x="531" y="434" width="1" height="38.30"/>
<rect x="533" y="434" width="1" height="38.30"/>
<rect x="535" y="434" width="1" height="38.30"/>
<rect x="540" y="434" width="1" height="38.30"/>
<rect x="542" y="434" width="1" height="38.30"/>
<rect x="544" y="434" width="1" height="38.30"/>
<rect x="653" y="442" width="1" height="30.30"/>
<rect x="655" y="442" width="1" height="30.30"/>
<rect x="660" y="442" width="1" height="30.30"/>
<rect x="662" y="442" width="1" height="30.30"/>
<rect x="664" y="442" width="1" height="30.30"/>
<rect x="669" y="442" width="1" height="30.30"/>
<rect x="671" y="442" width="1" height="30.30"/>
<rect x="673" y="442" width="1" height="30.30"/>
<rect x="675" y="442" width="1" height="30.30"/>
<rect x="680" y="442" width="1" height="30.30"/>
<rect x="682" y="442" width="1" height="30.30"/>
<rect x="713" y="439" width="1" height="33.30"/>
<rect x="715" y="439" width="1" height="33.30"/>
<rect x="718" y="439" width="1" height="33.30"/>
<rect x="720" y="439" width="1" height="33.30"/>
<rect x="722" y="439" width="1" height="33.30"/>
<rect x="724" y="439" width="1" height="33.30"/>
<rect x="729" y="439" width="1" height="33.30"/>
<rect x="731" y="439" width="1" height="33.30"/>
<rect x="733" y="439" width="1" height="33.30"/>
<rect x="735" y="439" width="1" height="33.30"/>
<rect x="738" y="439" width="1" height="33.30"/>
<rect x="764" y="443" width="1" height="29.30"/>
<rect x="769" y="443" width="1" height="29.30"/>
<rect x="771" y="443" width="1" height="29.30"/>
<rect x="773" y="443" width="1" height="29.30"/>
<rect x="778" y="443" width="1" height="29.30"/>
<rect x="780" y="443" width="1" height="29.30"/>
<rect x="782" y="443" width="1" height="29.30"/>
<rect x="784" y="443" width="1" height="29.30"/>
<rect x="789" y="397" width="1" height="75.30"/>
<rect x="791" y="397" width="1" height="75.30"/>
<rect x="793" y="397" width="1" height="75.30"/>
<rect x="798" y="397" width="1" height="75.30"/>
<rect x="800" y="397" width="1" height="75.30"/>
<rect x="802" y="397" width="1" height="75.30"/>
<rect x="804" y="397" width="1" height="75.30"/>
<rect x="809" y="384" width="1" height="88.30"/>
<rect x="811" y="384" width="1" height="88.30"/>
<rect x="813" y="384" width="1" height="88.30"/>
<rect x="818" y="384" width="1" height="88.30"/>
<rect x="820" y="384" width="1" height="88.30"/>
<rect x="822" y="384" width="1" height="88.30"/>
<rect x="840" y="417" width="1" height="55.30"/>
<rect x="842" y="417" width="1" height="55.30"/>
<rect x="844" y="417" width="1" height="55.30"/>
<rect x="849" y="417" width="1" height="55.30"/>
<rect x="851" y="417" width="1" height="55.30"/>
<rect x="853" y="416" width="1" height="56.30"/>
<rect x="858" y="416" width="1" height="56.30"/>
<rect x="860" y="416" width="1" height="56.30"/>
<rect x="862" y="416" width="1" height="56.30"/>
<rect x="873" y="443" width="1" height="29.30"/>
<rect x="878" y="443" width="1" height="29.30"/>
<rect x="884" y="437" width="1" height="35.30"/>
</g>
</g>
<g stroke="#000" stroke-width="1.1" fill="none">
<path d="M184.65 69.45H920.4V472.3H184.65Z"/>
<path d="M184.65 357.5H920.4" stroke-width="1.3"/>
<path d="M220.5 472.3v5.3"/>
<path d="M331.5 472.3v5.3"/>
<path d="M442.5 472.3v5.3"/>
<path d="M553.5 472.3v5.3"/>
<path d="M664.5 472.3v5.3"/>
<path d="M775.5 472.3v5.3"/>
<path d="M887.5 472.3v5.3"/>
<path d="M184.65 93.5h-5.3"/>
<path d="M184.65 150.5h-5.3"/>
<path d="M184.65 207.5h-5.3"/>
<path d="M184.65 264.5h-5.3"/>
<path d="M184.65 321.5h-5.3"/>
<path d="M184.65 431.5h-5.3"/>
<path d="M184.65 384.5h-5.3"/>
</g>
<g font-family="DejaVu Sans, Liberation Sans, sans-serif" fill="#000">
<text x="511" y="15.2" font-size="16.6" text-anchor="middle">MES 12-Minute Chart (2025-11-18 14:00~15:00) - MA on HLC/3</text>
<text x="174.7" y="98.5" font-size="13.89" text-anchor="end">6665</text>
<text x="174.7" y="155.5" font-size="13.89" text-anchor="end">6660</text>
<text x="174.7" y="212.5" font-size="13.89" text-anchor="end">6655</text>
<text x="174.7" y="269.5" font-size="13.89" text-anchor="end">6650</text>
<text x="174.7" y="326.5" font-size="13.89" text-anchor="end">6645</text>
<text x="174.7" y="436.8" font-size="13.89" text-anchor="end">1000</text>
<text x="174.7" y="389.6" font-size="13.89" text-anchor="end">2000</text>
<text transform="translate(131,216) rotate(-90)" font-size="13.89" text-anchor="middle">Price</text>
<text transform="translate(130,416) rotate(-90)" font-size="13.89" text-anchor="middle">Volume</text>
<text transform="translate(217.7,519.5) rotate(-45)" font-size="13.89" text-anchor="middle" dominant-baseline="central">Nov 17, 23:48</text>
<text transform="translate(329.5,519.5) rotate(-45)" font-size="13.89" text-anchor="middle" dominant-baseline="central">Nov 17, 23:54</text>
<text transform="translate(440.7,519.5) rotate(-45)" font-size="13.89" text-anchor="middle" dominant-baseline="central">Nov 18, 00:00</text>
<text transform="translate(551.8,519.5) rotate(-45)" font-size="13.89" text-anchor="middle" dominant-baseline="central">Nov 18, 00:09</text>
<text transform="translate(663.0,519.5) rotate(-45)" font-size="13.89" text-anchor="middle" dominant-baseline="central">Nov 18, 00:18</text>
<text transform="translate(774.1,519.5) rotate(-45)" font-size="13.89" text-anchor="middle" dominant-baseline="central">Nov 18, 00:30</text>
</g>
</svg>
</body></html>
